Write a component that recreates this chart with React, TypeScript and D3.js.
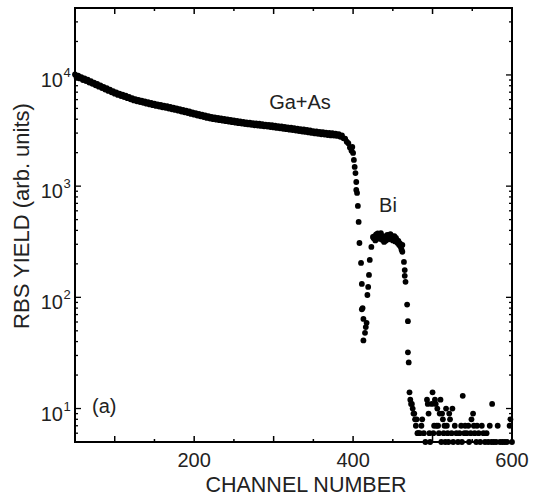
import React from "react";
import * as d3 from "d3";

// Ga+As surface edge: one reading every 2 channels starting at channel 50
const gaStartChannel = 50;
const gaChannelStep = 2;
const gaAsYield = [
  10100, 9500, 9850, 9300, 9550, 9000, 9300, 8800, 9050, 8550,
  8780, 8330, 8520, 8080, 8300, 7850, 8050, 7620, 7810, 7400,
  7600, 7190, 7370, 6980, 7150, 6780, 6960, 6610, 6800, 6460,
  6650, 6320, 6500, 6180, 6350, 6040, 6200, 5900, 6070, 5800,
  5970, 5700, 5880, 5610, 5790, 5520, 5700, 5430, 5610, 5350,
  5520, 5260, 5440, 5190, 5370, 5120, 5300, 5060, 5230, 4980,
  5160, 4910, 5090, 4850, 5010, 4770, 4930, 4690, 4850, 4610,
  4770, 4540, 4690, 4460, 4610, 4390, 4540, 4320, 4470, 4250,
  4400, 4180, 4330, 4110, 4260, 4050, 4190, 4000, 4150, 3960,
  4110, 3920, 4060, 3880, 4020, 3840, 3980, 3800, 3940, 3760,
  3900, 3720, 3860, 3680, 3820, 3650, 3780, 3620, 3750, 3590,
  3720, 3560, 3690, 3530, 3670, 3510, 3640, 3480, 3610, 3450,
  3580, 3430, 3560, 3400, 3530, 3370, 3500, 3340, 3470, 3310,
  3440, 3280, 3410, 3250, 3380, 3220, 3350, 3190, 3320, 3160,
  3290, 3130, 3260, 3100, 3230, 3070, 3200, 3040, 3170, 3010,
  3130, 2980, 3110, 2960, 3080, 2930, 3060, 2910, 3030, 2880,
  3010, 2860, 2990, 2850, 2960, 2830, 2930, 2780, 2860, 2690,
  2680, 2510, 2430, 2230, 2080,
];

// Ga+As falling edge and Bi rising edge: [channel, yield]
const edgePoints: [number, number][] = [
  [399, 2250], [400, 1990], [401, 1720], [402, 1490], [403, 1310],
  [404, 1090], [404, 925], [405, 869], [406, 664], [407, 477],
  [408, 308], [410, 204], [411, 132], [412, 80], [411, 78],
  [413, 64], [413, 41], [415, 48], [416, 54], [417, 59],
  [418, 105], [419, 124], [420, 159], [421, 217], [423, 284], [425, 349],
];

// Bi peak plateau
const biPlateau: [number, number][] = [
  [426, 340], [427, 355], [428, 325], [429, 368], [430, 345], [431, 375],
  [432, 348], [433, 365], [434, 335], [435, 378], [436, 342], [437, 328],
  [438, 355], [439, 315], [440, 340], [441, 322], [442, 350], [443, 365],
  [444, 332], [445, 358], [446, 340], [447, 370], [448, 335], [449, 355],
  [450, 325], [451, 348], [452, 355], [453, 318], [454, 342], [455, 328],
  [456, 308], [457, 322], [458, 296], [459, 305], [460, 283], [461, 268],
];

// Bi falling edge
const biFallingEdge: [number, number][] = [
  [462, 296], [462, 257], [464, 208], [465, 176], [465, 156], [466, 138],
  [468, 86], [469, 61], [469, 32], [470, 26], [471, 14],
];

// background counts past the Bi edge
const backgroundNoise: [number, number][] = [
  [472, 12], [473, 11], [474, 11], [475, 10], [476, 9], [477, 9], [478, 8],
  [479, 7], [480, 8], [481, 6], [482, 6], [484, 6], [486, 7], [487, 8],
  [489, 6], [491, 5], [493, 12], [494, 11], [495, 9], [496, 6], [497, 5],
  [499, 11], [500, 14], [501, 6], [502, 7], [503, 12], [504, 11], [505, 7],
  [506, 10], [507, 7], [508, 6], [509, 9], [510, 12], [511, 5], [512, 9],
  [513, 8], [514, 6], [515, 7], [516, 5], [517, 10], [518, 7], [519, 6],
  [520, 5], [521, 9], [522, 8], [524, 6], [525, 10], [526, 5], [528, 7],
  [530, 6], [532, 5], [534, 6], [536, 7], [537, 5], [538, 13], [540, 6],
  [541, 7], [543, 6], [545, 7], [546, 5], [548, 6], [549, 8], [551, 9],
  [552, 7], [553, 6], [555, 5], [556, 7], [558, 6], [560, 5], [562, 7],
  [564, 6], [566, 5], [568, 6], [570, 5], [572, 7], [574, 5], [575, 11],
  [577, 5], [580, 5], [582, 7], [585, 5], [588, 5], [591, 5], [594, 5],
  [597, 7], [598, 8], [600, 5],
];

const xTickLabels = [200, 400, 600];
const yDecadeExponents = [1, 2, 3, 4];

const W = 533;
const H = 497;
const left = 75;
const right = 512;
const top = 8;
const bottom = 442;
const font = "'Liberation Sans', Arial, Helvetica, sans-serif";

export default function App() {
  const x = d3.scaleLinear().domain([50, 600]).range([left, right]);
  const y = d3.scaleLog().domain([5, 40000]).range([bottom, top]);

  const points: [number, number][] = [
    ...gaAsYield.map((v, i) => [gaStartChannel + i * gaChannelStep, v] as [number, number]),
    ...edgePoints,
    ...biPlateau,
    ...biFallingEdge,
    ...backgroundNoise,
  ];

  const xTicks = x.ticks(11);
  const yTicks = y.ticks();
  const isMajorY = (t: number) => Math.abs(Math.log10(t) - Math.round(Math.log10(t))) < 1e-9;

  return (
    <svg
      width={W}
      height={H}
      viewBox={`0 0 ${W} ${H}`}
      style={{ position: "absolute", left: 0, top: 0, background: "#fff" }}
      fontFamily={font}
    >
      <rect x={0} y={0} width={W} height={H} fill="#fff" />

      {/* x ticks, bottom and top, pointing inward */}
      {xTicks.map((t) => {
        const len = t % 100 === 0 ? 6 : 3;
        return (
          <g key={`xt${t}`} stroke="#000" strokeWidth={1.5}>
            <line x1={x(t)} x2={x(t)} y1={bottom} y2={bottom - len} />
            <line x1={x(t)} x2={x(t)} y1={top} y2={top + len} />
          </g>
        );
      })}

      {/* y ticks, left and right, pointing inward */}
      {yTicks.map((t) => {
        const len = isMajorY(t) ? 6 : 3;
        return (
          <g key={`yt${t}`} stroke="#000" strokeWidth={1.3}>
            <line x1={left} x2={left + len} y1={y(t)} y2={y(t)} />
            <line x1={right} x2={right - len} y1={y(t)} y2={y(t)} />
          </g>
        );
      })}

      <rect
        x={left}
        y={top}
        width={right - left}
        height={bottom - top}
        fill="none"
        stroke="#000"
        strokeWidth={2}
      />

      {xTickLabels.map((t) => (
        <text key={`xl${t}`} x={x(t)} y={467} textAnchor="middle" fontSize={20} fill="#222">
          {t}
        </text>
      ))}

      {yDecadeExponents.map((e) => (
        <text key={`yl${e}`} x={63} y={y(Math.pow(10, e)) + 12} textAnchor="end" fontSize={20} fill="#222">
          10
        </text>
      ))}
      {yDecadeExponents.map((e) => (
        <text key={`ys${e}`} x={63.5} y={y(Math.pow(10, e)) + 2} fontSize={13} fill="#222">
          {e}
        </text>
      ))}

      <text x={306} y={492} textAnchor="middle" fontSize={21.5} fill="#222">
        CHANNEL NUMBER
      </text>
      <text
        transform={`translate(29,216) rotate(-90)`}
        textAnchor="middle"
        fontSize={22}
        fill="#222"
      >
        RBS YIELD (arb. units)
      </text>

      <text x={300} y={109} textAnchor="middle" fontSize={20} fill="#222">
        Ga+As
      </text>
      <text x={388} y={212} textAnchor="middle" fontSize={20} fill="#222">
        Bi
      </text>
      <text x={92} y={413} fontSize={20} fill="#222">
        (a)
      </text>

      <g fill="#000">
        {points.map(([c, v], i) => (
          <circle key={i} cx={x(c)} cy={y(v)} r={2.9} />
        ))}
      </g>
    </svg>
  );
}
